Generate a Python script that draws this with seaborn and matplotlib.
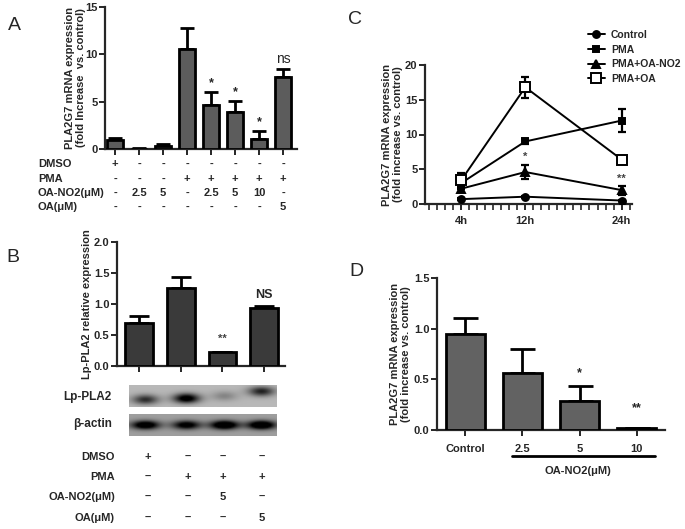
import numpy as np
import pandas as pd
import matplotlib
matplotlib.use("Agg")
import matplotlib.pyplot as plt
import matplotlib.transforms as mtrans
from matplotlib.lines import Line2D
from matplotlib.ticker import MultipleLocator, FixedLocator
import seaborn as sns

# ---------------- data ----------------
# panel A
a_groups = ["g1", "g2", "g3", "g4", "g5", "g6", "g7", "g8"]
a_mean = [1.0, 0.05, 0.3, 10.6, 4.7, 3.9, 1.1, 7.6]
a_err = [0.15, 0.02, 0.25, 2.2, 1.35, 1.2, 0.8, 0.9]
a_marks = ["", "", "", "", "*", "*", "*", "ns"]
a_dmso = ["+", "-", "-", "-", "-", "-", "-", "-"]
a_pma = ["-", "-", "-", "+", "+", "+", "+", "+"]
a_oano2 = ["-", "2.5", "5", "-", "2.5", "5", "10", "-"]
a_oa = ["-", "-", "-", "-", "-", "-", "-", "5"]

# panel B
b_groups = ["b1", "b2", "b3", "b4"]
b_mean = [0.69, 1.26, 0.22, 0.93]
b_err = [0.11, 0.17, 0.01, 0.04]
b_marks = ["", "", "**", "NS"]
b_dmso = ["+", "\u2013", "\u2013", "\u2013"]
b_pma = ["\u2013", "+", "+", "+"]
b_oano2 = ["\u2013", "\u2013", "5", "\u2013"]
b_oa = ["\u2013", "\u2013", "\u2013", "5"]
blot_lp = [0.55, 0.85, 0.2, 0.6]       # band darkness
blot_lp_pos = [0.65, 0.6, 0.5, 0.3]    # band height in lane
blot_actin = [0.85, 0.75, 0.95, 0.95]

# panel C
c_hours = [4, 12, 24]
c_names = ["Control", "PMA", "PMA+OA-NO2", "PMA+OA"]
c_control = [0.7, 1.05, 0.5]
c_control_err = [0.1, 0.15, 0.1]
c_pma = [3.0, 9.0, 12.0]
c_pma_err = [0.8, 0.4, 1.7]
c_no2 = [2.2, 4.6, 2.0]
c_no2_err = [0.5, 1.0, 0.65]
c_oa = [3.4, 16.8, 6.4]
c_oa_err = [1.0, 1.5, 0.4]

# panel D
d_labels = ["Control", "2.5", "5", "10"]
d_mean = [0.95, 0.56, 0.29, 0.02]
d_err = [0.16, 0.24, 0.14, 0.0]
d_marks = ["", "", "*", "**"]

# ---------------- style ----------------
sns.set_style("ticks")
plt.rcParams['font.family'] = ['Liberation Sans', 'DejaVu Sans']
plt.rcParams['font.weight'] = 'bold'
plt.rcParams['axes.labelweight'] = 'bold'
plt.rcParams['font.size'] = 8
plt.rcParams['axes.linewidth'] = 1.6
plt.rcParams['xtick.major.width'] = 1.4
plt.rcParams['ytick.major.width'] = 1.4
plt.rcParams['xtick.major.size'] = 4
plt.rcParams['ytick.major.size'] = 4
plt.rcParams['xtick.major.pad'] = 2
plt.rcParams['ytick.major.pad'] = 1.5

W, H = 685, 529
fig = plt.figure(figsize=(W / 100, H / 100), dpi=100)


def box(l, t, r, b):
    return [l / W, 1 - b / H, (r - l) / W, (b - t) / H]


def fx(px):
    return px / W


def fy(py):
    return 1 - py / H


def bars(ax, labels, mean, err, color, width, cap):
    sns.barplot(x=labels, y=mean, color=color, saturation=1, width=width,
                edgecolor="black", linewidth=2, ax=ax, zorder=3)
    ax.errorbar(range(len(mean)), mean, yerr=[[0] * len(mean), err], fmt="none",
                ecolor="black", elinewidth=2, capsize=cap, capthick=2, zorder=2)
    sns.despine(ax=ax)


# ---------------- A ----------------
axA = fig.add_axes(box(105, 7, 297, 149))
bars(axA, a_groups, a_mean, a_err, "#5c5c5c", 0.7, 5)
axA.set_xlim(-0.42, 7.58)
axA.set_ylim(0, 15)
axA.yaxis.set_major_locator(MultipleLocator(5))
axA.set_xticklabels([""] * 8)
axA.set_ylabel("PLA2G7 mRNA expression\n(fold Increase  vs. control)", fontsize=8, linespacing=1.1)
axA.yaxis.set_label_coords(-0.1, 0.5)
for i, m in enumerate(a_marks):
    if m:
        axA.text(i, a_mean[i] + a_err[i] + 0.25, m, ha="center", va="bottom",
                 fontsize=9 if m == "*" else 10, fontweight="normal" if m == "ns" else "bold")
trA = mtrans.blended_transform_factory(axA.transData, fig.transFigure)
for row, name, py in [(a_dmso, "DMSO", 164), (a_pma, "PMA", 179),
                      (a_oano2, "OA-NO2(\u03bcM)", 193), (a_oa, "OA(\u03bcM)", 207)]:
    fig.text(fx(38), fy(py), name, ha="left", va="center", fontsize=8)
    for i, v in enumerate(row):
        axA.text(i, fy(py), v, transform=trA, ha="center", va="center", fontsize=8)

# ---------------- B ----------------
axB = fig.add_axes(box(117, 242, 285, 366))
bars(axB, b_groups, b_mean, b_err, "#3a3a3a", 0.67, 7)
axB.set_xlim(-0.53, 3.5)
axB.set_ylim(0, 2.0)
axB.yaxis.set_major_locator(MultipleLocator(0.5))
axB.yaxis.set_major_formatter(plt.FormatStrFormatter("%.1f"))
axB.set_xticklabels([""] * 4)
axB.set_ylabel("Lp-PLA2 relative expression", fontsize=8)
axB.yaxis.set_label_coords(-0.15, 0.5)
axB.text(2, 0.36, b_marks[2], ha="center", va="bottom", fontsize=8, color="#444444")
axB.text(3, 1.05, b_marks[3], ha="center", va="bottom", fontsize=9)

# western blot strips
def strip(levels, pos, bg, sigx, sigy):
    w, h = 148, 22
    xs = np.arange(w)[None, :]
    ys = np.arange(h)[:, None]
    img = np.full((h, w), bg)
    centers = [16, 57, 95, 132]
    for c, lv, p in zip(centers, levels, pos):
        img = img - lv * np.exp(-((xs - c) / sigx) ** 2 - ((ys - p * h) / sigy) ** 2)
    return np.clip(img, 0, 1)

axL = fig.add_axes(box(129, 385, 277, 407))
axL.imshow(strip(blot_lp, blot_lp_pos, 0.72, 13, 4.5), cmap="gray", vmin=0, vmax=1, aspect="auto")
axL.axis("off")
axAct = fig.add_axes(box(129, 414, 277, 436))
axAct.imshow(strip(blot_actin, [0.5] * 4, 0.62, 14, 4), cmap="gray", vmin=0, vmax=1, aspect="auto")
axAct.axis("off")
fig.text(fx(112), fy(397), "Lp-PLA2", ha="right", va="center", fontsize=8.5)
fig.text(fx(112), fy(424), "\u03b2-actin", ha="right", va="center", fontsize=8.5)

b_cols = [148, 188, 223, 262]
for row, name, py in [(b_dmso, "DMSO", 457), (b_pma, "PMA", 477),
                      (b_oano2, "OA-NO2(\u03bcM)", 497), (b_oa, "OA(\u03bcM)", 518)]:
    fig.text(fx(115), fy(py), name, ha="right", va="center", fontsize=8)
    for cx, v in zip(b_cols, row):
        fig.text(fx(cx), fy(py), v, ha="center", va="center", fontsize=8)

# ---------------- C ----------------
axC = fig.add_axes(box(425, 65, 632, 204))
series = [(c_control, c_control_err, "o", "black", 5),
          (c_pma, c_pma_err, "s", "black", 5),
          (c_no2, c_no2_err, "^", "black", 5.5),
          (c_oa, c_oa_err, "s", "white", 6.5)]
handles = []
for (vals, errs, mk, face, ms), name in zip(series, c_names):
    axC.errorbar(c_hours, vals, yerr=errs, fmt="none", ecolor="black",
                 elinewidth=1.6, capsize=3, capthick=1.6, zorder=2)
    sns.lineplot(x=c_hours, y=vals, marker=mk, color="black", linewidth=1.4,
                 markersize=ms, markerfacecolor=face, markeredgecolor="black",
                 markeredgewidth=1.4, ax=axC, zorder=3)
    handles.append(Line2D([], [], color="black", marker=mk, markersize=ms,
                          markerfacecolor=face, markeredgewidth=1.4, linewidth=1.4))
sns.despine(ax=axC)
axC.set_xlim(-0.5, 25.3)
axC.set_ylim(0, 20)
axC.xaxis.set_major_locator(FixedLocator(c_hours))
axC.set_xticklabels([f"{h}h" for h in c_hours])
axC.xaxis.set_minor_locator(MultipleLocator(1))
axC.tick_params(axis="x", which="minor", length=4, width=1.2)
axC.tick_params(axis="x", which="major", pad=5)
axC.yaxis.set_major_locator(MultipleLocator(5))
axC.set_ylabel("PLA2G7 mRNA expression\n(fold increase vs. control)", fontsize=8, linespacing=1.1)
axC.yaxis.set_label_coords(-0.105, 0.5)
axC.text(12, c_no2[1] + c_no2_err[1] + 0.4, "*", ha="center", va="bottom", fontsize=8, color="#444444")
axC.text(24, c_no2[2] + c_no2_err[2] + 0.2, "**", ha="center", va="bottom", fontsize=8, color="#444444")
axC.legend(handles, c_names, loc="upper left", bbox_to_anchor=(fx(588), fy(30)),
           bbox_transform=fig.transFigure, frameon=False, handlelength=1.6,
           handletextpad=0.6, labelspacing=0.45, borderpad=0, borderaxespad=0,
           prop={"weight": "bold", "size": 7.5})

# ---------------- D ----------------
axD = fig.add_axes(box(437, 278, 665, 430))
bars(axD, d_labels, d_mean, d_err, "#626262", 0.68, 9)
axD.set_xlim(-0.49, 3.49)
axD.set_ylim(0, 1.5)
axD.yaxis.set_major_locator(MultipleLocator(0.5))
axD.yaxis.set_major_formatter(plt.FormatStrFormatter("%.1f"))
axD.tick_params(axis="x", pad=6)
axD.set_ylabel("PLA2G7 mRNA expression\n(fold increase vs. control)", fontsize=8, linespacing=1.1)
axD.yaxis.set_label_coords(-0.115, 0.5)
axD.text(2, 0.5, "*", ha="center", va="bottom", fontsize=9)
axD.text(3, 0.16, "**", ha="center", va="bottom", fontsize=9)
fig.add_artist(Line2D([fx(512), fx(655)], [fy(456), fy(456)], color="black", linewidth=2))
fig.text(fx(578), fy(471), "OA-NO2(\u03bcM)", ha="center", va="center", fontsize=8)

# panel letters
for letter, px, py in [("A", 14, 25), ("B", 13, 257), ("C", 355, 19), ("D", 356, 271)]:
    fig.text(fx(px), fy(py), letter, ha="center", va="center", fontsize=14, fontweight="normal")

fig.savefig("out.png", dpi=100)
